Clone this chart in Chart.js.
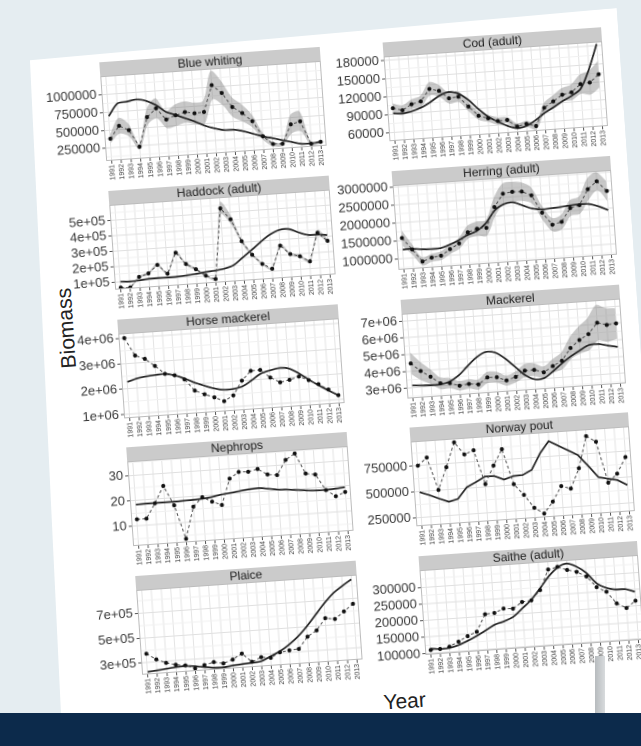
<!DOCTYPE html>
<html>
<head>
<meta charset="utf-8">
<script src="https://cdn.jsdelivr.net/npm/chart.js@4/dist/chart.umd.min.js"></script>
<style>
  html, body { margin: 0; padding: 0; }
  body {
    width: 641px; height: 746px; overflow: hidden; position: relative;
    background: #e5edf1;
    font-family: "Liberation Sans", Arial, sans-serif;
  }
  #sheet {
    position: absolute; left: 0; top: 0; width: 641px; height: 746px;
    transform-origin: 330px 380px; transform: rotate(-4deg);
  }
  #paper {
    position: absolute; left: 0; top: 0; width: 800px; height: 800px; background: #ffffff;
    clip-path: polygon(53px 40px, 642px 29px, 642px 800px, 36px 800px);
  }
  .axis-title { position: absolute; font-size: 21px; color: #222; white-space: nowrap; line-height: 1; }
  #ytitle { left: 70px; top: 310px; transform: translate(-50%, -50%) rotate(-90deg); }
  #xtitle { left: 382px; top: 705px; transform: translate(-50%, -50%); }
  #post { position: absolute; left: 595px; top: 656px; width: 10px; height: 57px;
          background: linear-gradient(to right, #b7bbbe, #d8dbdd); }
  #footer { position: absolute; left: 0; top: 713px; width: 641px; height: 33px; background: #0c2a4b; }
</style>
</head>
<body>
<div id="sheet">
  <div id="paper"></div>
  <div class="axis-title" id="ytitle">Biomass</div>
  <div class="axis-title" id="xtitle">Year</div>
</div>
<div id="post"></div>
<div id="footer"></div>

<script>
// ---- data -------------------------------------------------------------
const years = [1991,1992,1993,1994,1995,1996,1997,1998,1999,2000,2001,2002,
               2003,2004,2005,2006,2007,2008,2009,2010,2011,2012,2013];

// Blue whiting
const bwObs  = [378000,549000,479000,238000,644000,757000,591000,642000,678000,651000,659000,1027000,908000,702000,608000,484000,262000,145000,140000,402000,435000,112000,129000];
const bwFit  = [695000,863000,880000,902000,873000,805000,701000,647000,590000,534000,467000,421000,388000,383000,353000,308000,262000,227000,190000,155000,119000,118000,129000];
const bwLow  = [318000,439000,389000,198000,534000,617000,471000,492000,528000,501000,499000,827000,738000,562000,488000,394000,212000,115000,110000,272000,295000,87000,104000];
const bwHigh = [438000,659000,569000,278000,754000,897000,711000,792000,828000,801000,819000,1227000,1078000,842000,728000,574000,312000,175000,170000,532000,575000,137000,154000];
const bwRange = [70000, 1260000];
const bwTicks = [250000, 500000, 750000, 1000000];
const bwTickLabels = ['250000', '500000', '750000', '1000000'];

// Cod (adult)
const codObs  = [100400,95700,104700,108500,128000,123700,110300,111800,94400,78000,72500,67000,67500,55800,59000,54200,83500,93000,103000,106000,118500,120000,132600];
const codFit  = [91800,90500,93200,98100,106000,115600,120600,117000,105800,89500,75400,65900,57700,52900,55600,64000,74800,83300,92400,100200,111000,141900,183000];
const codLow  = [92400,87700,96700,99500,117000,113700,101300,102800,86400,71000,66500,61000,62500,50800,54000,48200,75500,83000,92000,93000,102500,100000,110600];
const codHigh = [108400,103700,112700,117500,139000,133700,119300,120800,102400,85000,78500,73000,72500,60800,64000,60200,91500,103000,114000,119000,134500,140000,154600];
const codRange = [46000, 187000];
const codTicks = [60000, 90000, 120000, 150000, 180000];
const codTickLabels = ['60000', '90000', '120000', '150000', '180000'];

// Haddock (adult)
const hadObs  = [61000,58000,122000,141000,192000,130000,263000,185000,147000,100000,74000,530000,454000,307000,215000,151000,115000,261000,202000,183000,146000,328000,271000];
const hadFit  = [100000,97000,100000,106000,107000,106000,107000,111000,116000,124000,129000,137000,156000,202000,247000,295000,337000,363000,365000,339000,318000,316000,309000];
const hadLow  = [55000,52000,114000,132000,182000,121000,251000,175000,138000,92000,67000,490000,424000,292000,205000,143000,107000,249000,192000,173000,137000,310000,256000];
const hadHigh = [67000,64000,130000,150000,202000,139000,275000,195000,156000,108000,81000,570000,484000,322000,225000,159000,123000,273000,212000,193000,155000,346000,286000];
const hadRange = [50000, 602000];
const hadTicks = [100000, 200000, 300000, 400000, 500000];
const hadTickLabels = ['1e+05', '2e+05', '3e+05', '4e+05', '5e+05'];

// Herring (adult)
const herObs  = [1571000,1234000,879000,968000,1003000,1166000,1311000,1604000,1684000,1690000,2250000,2608000,2642000,2630000,2505000,2003000,1650000,1711000,2077000,2139000,2569000,2771000,2482000];
const herFit  = [1248000,1253000,1220000,1207000,1215000,1295000,1402000,1530000,1629000,1827000,2158000,2313000,2347000,2243000,2137000,2096000,2110000,2126000,2151000,2166000,2154000,2071000,1947000];
const herLow  = [1351000,1084000,769000,858000,883000,1036000,1161000,1424000,1484000,1470000,1990000,2328000,2362000,2370000,2275000,1803000,1460000,1511000,1857000,1899000,2269000,2521000,2202000];
const herHigh = [1791000,1384000,989000,1078000,1123000,1296000,1461000,1784000,1884000,1910000,2510000,2888000,2922000,2890000,2735000,2203000,1840000,1911000,2297000,2379000,2869000,3021000,2762000];
const herRange = [690000, 3060000];
const herTicks = [1000000, 1500000, 2000000, 2500000, 3000000];
const herTickLabels = ['1000000', '1500000', '2000000', '2500000', '3000000'];

// Horse mackerel
const hmObs = [3999000,3286000,3128000,2826000,2486000,2401000,2217000,1750000,1577000,1429000,1255000,1453000,2008000,2370000,2380000,2052000,1839000,1910000,2016000,1846000,1661000,1424000,1174000];
const hmFit = [2271000,2380000,2438000,2469000,2486000,2401000,2256000,2069000,1921000,1786000,1702000,1708000,1778000,1988000,2227000,2332000,2400000,2356000,2144000,1871000,1622000,1385000,1174000];
const hmRange = [850000, 4190000];
const hmTicks = [1000000, 2000000, 3000000, 4000000];
const hmTickLabels = ['1e+06', '2e+06', '3e+06', '4e+06'];

// Mackerel
const macObs  = [4464000,3970000,3594000,3160000,3129000,2937000,3008000,2937000,3315000,3285000,3055000,3228000,3562000,3574000,3384000,3717000,3996000,4713000,5151000,5467000,6105000,5933000,5986000];
const macFit  = [3152000,3121000,3089000,3099000,3230000,3564000,4079000,4553000,4830000,4759000,4368000,3834000,3299000,3008000,3040000,3414000,3852000,4228000,4545000,4820000,4832000,4700000,4592000];
const macLow  = [3814000,3420000,3144000,2810000,2829000,2657000,2728000,2637000,2985000,2955000,2755000,2908000,3182000,3194000,3034000,3317000,3496000,4063000,4351000,4517000,5055000,4933000,5086000];
const macHigh = [5114000,4520000,4044000,3510000,3429000,3217000,3288000,3237000,3645000,3615000,3355000,3548000,3942000,3954000,3734000,4117000,4496000,5363000,5951000,6417000,7155000,6933000,6886000];
const macRange = [2390000, 7440000];
const macTicks = [3000000, 4000000, 5000000, 6000000, 7000000];
const macTickLabels = ['3e+06', '4e+06', '5e+06', '6e+06', '7e+06'];

// Nephrops
const nepObs = [12.6,12.6,18.4,25.0,17.1,3.6,16.0,19.5,17.5,15.9,26.0,28.4,28.2,29.0,26.6,26.1,31.8,34.1,25.9,25.3,18.9,16.2,17.6];
const nepFit = [18.4,18.5,18.5,18.5,18.5,18.6,18.7,18.9,19.3,20.0,20.4,20.9,21.3,21.5,21.0,20.4,20.1,19.7,19.3,19.0,19.0,19.2,19.5];
const nepRange = [2.2, 35.6];
const nepTicks = [10, 20, 30];
const nepTickLabels = ['10', '20', '30'];

// Norway pout
const npObs = [751000,823000,502000,717000,952000,828000,862000,527000,701000,853000,507000,397000,265000,203000,312000,457000,426000,617000,922000,862000,458000,539000,694000];
const npFit = [493000,459000,419000,382000,403000,509000,552000,601000,599000,559000,586000,590000,633000,787000,900000,847000,797000,744000,634000,518000,497000,476000,423000];
const npRange = [166000, 989000];
const npTicks = [250000, 500000, 750000];
const npTickLabels = ['250000', '500000', '750000'];

// Plaice
const plObs = [372000,321000,288000,267000,256000,227000,248000,267000,251000,277000,320000,248000,280000,269000,309000,319000,325000,419000,464000,558000,545000,601000,657000];
const plFit = [225000,232000,240000,248000,251000,245000,232000,222000,220000,229000,235000,240000,248000,282000,317000,365000,426000,502000,590000,678000,753000,807000,855000];
const plRange = [205000, 890000];
const plTicks = [300000, 500000, 700000];
const plTickLabels = ['3e+05', '5e+05', '7e+05'];

// Saithe (adult)
const saObs = [110000,111000,116000,129000,144000,155000,206000,208000,219000,217000,235000,238000,267000,327000,333000,322000,314000,298000,264000,248000,211000,195000,215000];
const saFit = [114000,111000,112000,119000,130000,143000,158000,173000,181000,193000,216000,240000,272000,306000,331000,341000,330000,309000,276000,260000,253000,252000,242000];
const saRange = [96000, 352000];
const saTicks = [100000, 150000, 200000, 250000, 300000];
const saTickLabels = ['100000', '150000', '200000', '250000', '300000'];

// ---- panel list (facet order, two columns) ------------------------------
const panels = [
  { title: 'Blue whiting',    obs: bwObs,  fit: bwFit,  low: bwLow,  high: bwHigh,  range: bwRange,  ticks: bwTicks,  labels: bwTickLabels },
  { title: 'Cod (adult)',     obs: codObs, fit: codFit, low: codLow, high: codHigh, range: codRange, ticks: codTicks, labels: codTickLabels },
  { title: 'Haddock (adult)', obs: hadObs, fit: hadFit, low: hadLow, high: hadHigh, range: hadRange, ticks: hadTicks, labels: hadTickLabels },
  { title: 'Herring (adult)', obs: herObs, fit: herFit, low: herLow, high: herHigh, range: herRange, ticks: herTicks, labels: herTickLabels },
  { title: 'Horse mackerel',  obs: hmObs,  fit: hmFit,  range: hmRange,  ticks: hmTicks,  labels: hmTickLabels },
  { title: 'Mackerel',        obs: macObs, fit: macFit, low: macLow, high: macHigh, range: macRange, ticks: macTicks, labels: macTickLabels },
  { title: 'Nephrops',        obs: nepObs, fit: nepFit, range: nepRange, ticks: nepTicks, labels: nepTickLabels },
  { title: 'Norway pout',     obs: npObs,  fit: npFit,  range: npRange,  ticks: npTicks,  labels: npTickLabels, straight: true },
  { title: 'Plaice',          obs: plObs,  fit: plFit,  range: plRange,  ticks: plTicks,  labels: plTickLabels },
  { title: 'Saithe (adult)',  obs: saObs,  fit: saFit,  range: saRange,  ticks: saTicks,  labels: saTickLabels }
];

// ---- layout ------------------------------------------------------------
const FONT = '"Liberation Sans", Arial, sans-serif';
const PLOT_LEFT = [122, 406];
const PLOT_W = [221, 219];
const ROW_TOP = 47, ROW_STEP = 128.75;
const STRIP_H = 14, PLOT_H = 85, YAXIS_W = 78, XAXIS_H = 28, PAD_R = 6, PAD_T = 2;

const toPoints = vals => vals.map((v, i) => ({ x: years[i], y: v }));

// grey facet strip above each panel plus the panel frame
const stripPlugin = {
  id: 'strip',
  beforeDraw(chart, args, opts) {
    const { ctx, chartArea: a } = chart;
    ctx.save();
    ctx.fillStyle = '#ffffff';
    ctx.fillRect(a.left, a.top, a.width, a.height);
    ctx.fillStyle = '#cbcbcb';
    ctx.fillRect(a.left, a.top - STRIP_H, a.width, STRIP_H);
    ctx.fillStyle = '#1d1d1d';
    ctx.font = '12px ' + FONT;
    ctx.textAlign = 'center';
    ctx.textBaseline = 'middle';
    ctx.fillText(opts.text, (a.left + a.right) / 2, a.top - STRIP_H / 2 + 0.5);
    ctx.restore();
  },
  afterDraw(chart) {
    const { ctx, chartArea: a } = chart;
    ctx.save();
    ctx.strokeStyle = '#bcbcbc';
    ctx.lineWidth = 1;
    ctx.strokeRect(a.left + 0.5, a.top + 0.5, a.width - 1, a.height - 1);
    ctx.restore();
  }
};

const sheet = document.getElementById('sheet');

panels.forEach((p, i) => {
  const col = i % 2, row = Math.floor(i / 2);
  const stripTop = ROW_TOP + ROW_STEP * row;
  const w = YAXIS_W + PLOT_W[col] + PAD_R;
  const h = PAD_T + STRIP_H + PLOT_H + XAXIS_H;
  const cv = document.createElement('canvas');
  cv.width = w; cv.height = h;
  cv.style.cssText = `position:absolute;left:${PLOT_LEFT[col] - YAXIS_W}px;top:${stripTop - PAD_T}px;width:${w}px;height:${h}px;`;
  sheet.appendChild(cv);

  // major breaks carry labels; minor breaks sit halfway between them
  const step = p.ticks[1] - p.ticks[0];
  const minors = [];
  for (let k = -1; k < p.ticks.length; k++) {
    const m = p.ticks[0] + step * (k + 0.5);
    if (m > p.range[0] && m < p.range[1]) minors.push(m);
  }
  const labelOf = new Map(p.ticks.map((v, k) => [v, p.labels[k]]));
  const isMajor = v => labelOf.has(v);

  const datasets = [
    { data: toPoints(p.obs), borderColor: '#4d4d4d', borderWidth: 1, borderDash: [3, 2.5],
      pointRadius: 2, pointBackgroundColor: '#111', pointBorderWidth: 0, fill: false, tension: 0 },
    { data: toPoints(p.fit), borderColor: '#222', borderWidth: 1.7, pointRadius: 0,
      fill: false, tension: p.straight ? 0 : 0.3 }
  ];
  if (p.low) {
    datasets.push(
      { data: toPoints(p.low), borderColor: 'rgba(0,0,0,0)', borderWidth: 0, pointRadius: 0, fill: false, tension: 0.3 },
      { data: toPoints(p.high), borderColor: 'rgba(0,0,0,0)', borderWidth: 0, pointRadius: 0, fill: '-1',
        backgroundColor: 'rgba(125,125,125,0.42)', tension: 0.3 }
    );
  }

  new Chart(cv, {
    type: 'line',
    data: { datasets },
    plugins: [stripPlugin],
    options: {
      responsive: false,
      animation: false,
      devicePixelRatio: 2,
      layout: { padding: { top: PAD_T + STRIP_H, right: PAD_R, left: 0, bottom: 0 } },
      plugins: {
        legend: { display: false },
        tooltip: { enabled: false },
        strip: { text: p.title }
      },
      scales: {
        x: {
          type: 'linear', min: 1990.4, max: 2013.6,
          afterBuildTicks: s => { s.ticks = years.map(v => ({ value: v })); },
          afterFit: s => { s.height = XAXIS_H; s.paddingLeft = 0; s.paddingRight = 0; },
          border: { display: false },
          grid: { color: '#e4e4e4', lineWidth: 1, tickLength: 3, tickColor: '#555' },
          ticks: { autoSkip: false, minRotation: 90, maxRotation: 90, padding: 1,
                   color: '#444', font: { size: 7, family: FONT }, callback: v => String(v) }
        },
        y: {
          min: p.range[0], max: p.range[1],
          afterBuildTicks: s => { s.ticks = p.ticks.concat(minors).sort((a, b) => a - b).map(v => ({ value: v })); },
          afterFit: s => { s.width = YAXIS_W; s.paddingTop = 0; s.paddingBottom = 0; },
          border: { display: false },
          grid: {
            lineWidth: 1, tickLength: 3,
            color: c => isMajor(c.tick.value) ? '#e0e0e0' : '#f1f1f1',
            tickColor: c => isMajor(c.tick.value) ? '#555' : 'rgba(0,0,0,0)'
          },
          ticks: { autoSkip: false, padding: 2, color: '#363636', font: { size: 13, family: FONT },
                   callback: v => labelOf.has(v) ? labelOf.get(v) : '' }
        }
      }
    }
  });
});
</script>
</body>
</html>
